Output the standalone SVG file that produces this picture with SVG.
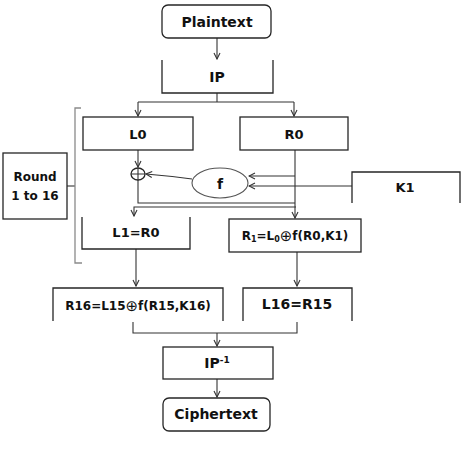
<svg xmlns="http://www.w3.org/2000/svg" width="474" height="449" viewBox="0 0 474 449">
<style>
.b{fill:#fff;stroke:#262626;stroke-width:1.3}
.o{fill:none;stroke:#262626;stroke-width:1.3}
.c{fill:none;stroke:#333;stroke-width:1.1}
.t{font-family:"DejaVu Sans",sans-serif;font-weight:bold;fill:#111;text-anchor:middle}
.x{font-weight:normal;font-size:15px}
</style>
<defs>
<marker id="a" markerWidth="8" markerHeight="8" viewBox="0 0 8 8" refX="7" refY="4" orient="auto" markerUnits="userSpaceOnUse">
<path d="M1,1 L7,4 L1,7" fill="none" stroke="#333" stroke-width="1.1"/>
</marker>
</defs>
<rect width="474" height="449" fill="#fff"/>
<g id="connectors">
<path class="c" d="M217,38 V59" marker-end="url(#a)"/>
<path class="c" d="M217,93 V102 M138,102 H294"/>
<path class="c" d="M138,102 V116" marker-end="url(#a)"/>
<path class="c" d="M294,102 V116" marker-end="url(#a)"/>
<path class="c" d="M138,150 V167" marker-end="url(#a)"/>
<path class="c" d="M138,180 V203 H295"/>
<path class="c" d="M295,150 V218" marker-end="url(#a)"/>
<path class="c" d="M296,207 H134 V216" marker-end="url(#a)"/>
<path class="c" d="M295,176 H249" marker-end="url(#a)"/>
<path class="c" d="M352,186 H249" marker-end="url(#a)"/>
<path class="c" d="M192,179 Q170,176 146,174" marker-end="url(#a)"/>
<path class="c" d="M136,249 V286" marker-end="url(#a)"/>
<path class="c" d="M297,252 V286" marker-end="url(#a)"/>
<path class="c" d="M133,322 V333 H297 V322"/>
<path class="c" d="M217,333 V346" marker-end="url(#a)"/>
<path class="c" d="M217,379 V397" marker-end="url(#a)"/>
<path class="c" d="M67,186 H75"/>
<path fill="none" stroke="#8a8a8a" stroke-width="1.3" d="M81,108 H75 V263 H82"/>
</g>
<g id="plaintext"><rect class="b" x="162" y="5" width="109" height="33" rx="6"/><text class="t" x="217" y="27" font-size="14">Plaintext</text></g>
<g id="ip"><path class="o" d="M162,60 V93 H273 V60"/><text class="t" x="217" y="82" font-size="14">IP</text></g>
<g id="l0"><rect class="b" x="83" y="117" width="110" height="33"/><text class="t" x="138" y="139" font-size="13">L0</text></g>
<g id="r0"><rect class="b" x="240" y="117" width="108" height="33"/><text class="t" x="294" y="139" font-size="13">R0</text></g>
<g id="xor"><ellipse class="o" cx="138" cy="174" rx="7" ry="6" stroke-width="1.1"/><path class="c" d="M131,174 H145 M138,168 V180"/></g>
<g id="f"><ellipse cx="220" cy="183" rx="28" ry="15" fill="#fff" stroke="#555" stroke-width="1.1"/><text class="t" x="220" y="189" font-size="14">f</text></g>
<g id="k1"><path class="o" d="M352,203 V172 H460 V203"/><text class="t" x="405" y="192" font-size="13">K1</text></g>
<g id="round"><rect class="b" x="3" y="153" width="64" height="66"/><text class="t" x="35" y="181" font-size="12">Round</text><text class="t" x="35" y="200" font-size="12">1 to 16</text></g>
<g id="l1"><path class="o" d="M82,217 V249 H190 V217"/><text class="t" x="136" y="237" font-size="13">L1=R0</text></g>
<g id="r1"><rect class="b" x="229" y="219" width="132" height="33"/><text class="t" x="295" y="240" font-size="12">R<tspan font-size="8" dy="2">1</tspan><tspan dy="-2">=L</tspan><tspan font-size="8" dy="2">0</tspan><tspan class="x" dy="-1">⊕</tspan><tspan dy="-1">f(R0,K1)</tspan></text></g>
<g id="r16"><path class="o" d="M53,321 V288 H223 V321"/><text class="t" x="138" y="310" font-size="12">R16=L15<tspan class="x" dy="1">⊕</tspan><tspan dy="-1">f(R15,K16)</tspan></text></g>
<g id="l16"><path class="o" d="M243,321 V288 H352 V321"/><text class="t" x="297" y="309" font-size="14">L16=R15</text></g>
<g id="ipinv"><rect class="b" x="163" y="347" width="110" height="32"/><text class="t" x="217" y="368" font-size="14">IP<tspan font-size="9" dy="-5">-1</tspan></text></g>
<g id="ciphertext"><rect class="b" x="163" y="398" width="107" height="33" rx="6"/><text class="t" x="216" y="419" font-size="14">Ciphertext</text></g>
</svg>
